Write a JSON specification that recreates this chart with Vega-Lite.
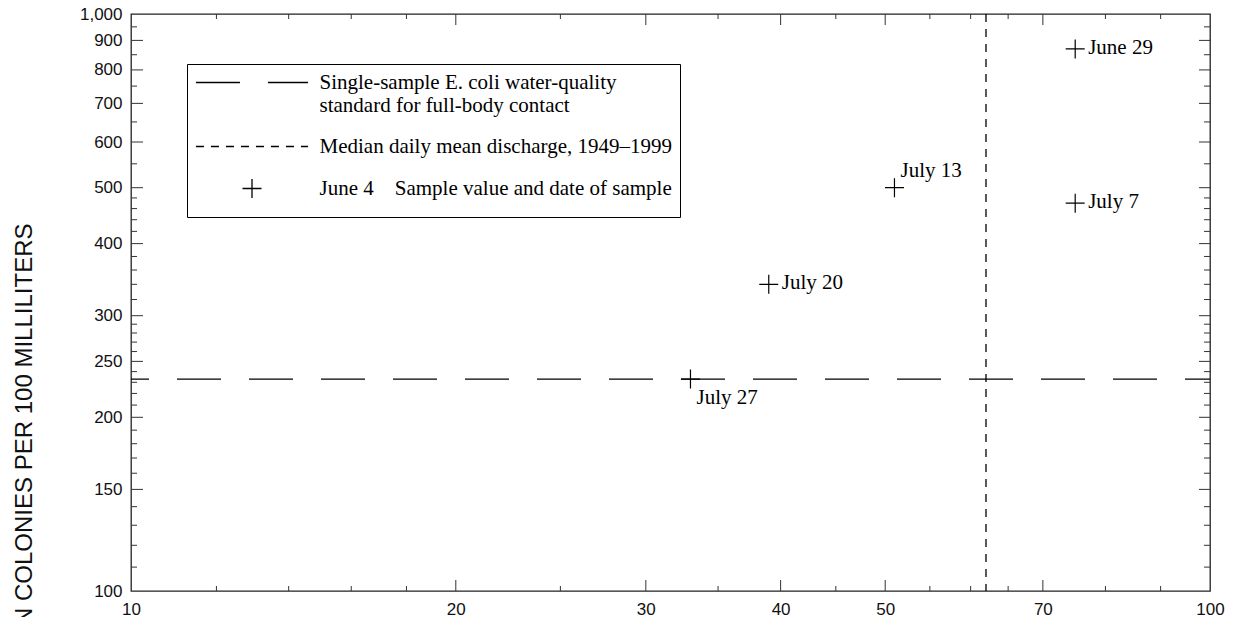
{
  "$schema": "https://vega.github.io/schema/vega-lite/v6.json",
  "width": 1079,
  "height": 577,
  "autosize": {"type": "none"},
  "padding": {"left": 131, "top": 14, "right": 23, "bottom": 26},
  "background": "white",
  "config": {
    "view": {"stroke": "#222", "strokeWidth": 1.3},
    "axis": {
      "grid": false,
      "domain": false,
      "ticks": false,
      "labelFont": "Liberation Sans",
      "labelFontSize": 17,
      "labelColor": "#111",
      "labelOverlap": false,
      "labelFlush": false,
      "titleFont": "Liberation Sans"
    }
  },
  "datasets": {
    "standard": [
      {"kind": "Single-sample E. coli water-quality standard for full-body contact", "ecoli": 233}
    ],
    "median": [
      {"kind": "Median daily mean discharge, 1949–1999", "discharge": 62}
    ],
    "samples": [
      {"kind": "Sample value and date of sample", "date": "June 29", "discharge": 75, "ecoli": 870},
      {"kind": "Sample value and date of sample", "date": "July 7", "discharge": 75, "ecoli": 470},
      {"kind": "Sample value and date of sample", "date": "July 13", "discharge": 51, "ecoli": 500},
      {"kind": "Sample value and date of sample", "date": "July 20", "discharge": 39, "ecoli": 340},
      {"kind": "Sample value and date of sample", "date": "July 27", "discharge": 33, "ecoli": 233}
    ],
    "xmajor": [{"discharge": 20}, {"discharge": 30}, {"discharge": 40}, {"discharge": 50}, {"discharge": 70}],
    "xminor": [{"discharge": 12}, {"discharge": 14}, {"discharge": 16}, {"discharge": 18}, {"discharge": 25}, {"discharge": 35}, {"discharge": 45}, {"discharge": 55}, {"discharge": 60}, {"discharge": 65}, {"discharge": 80}, {"discharge": 90}],
    "ymajor": [{"ecoli": 150}, {"ecoli": 200}, {"ecoli": 250}, {"ecoli": 300}, {"ecoli": 400}, {"ecoli": 500}, {"ecoli": 600}, {"ecoli": 700}, {"ecoli": 800}, {"ecoli": 900}],
    "yminor": [{"ecoli": 110}, {"ecoli": 120}, {"ecoli": 130}, {"ecoli": 140}, {"ecoli": 160}, {"ecoli": 170}, {"ecoli": 180}, {"ecoli": 190}, {"ecoli": 210}, {"ecoli": 220}, {"ecoli": 230}, {"ecoli": 240}, {"ecoli": 260}, {"ecoli": 270}, {"ecoli": 280}, {"ecoli": 290}, {"ecoli": 320}, {"ecoli": 340}, {"ecoli": 360}, {"ecoli": 380}, {"ecoli": 420}, {"ecoli": 440}, {"ecoli": 460}, {"ecoli": 480}, {"ecoli": 550}, {"ecoli": 650}, {"ecoli": 750}, {"ecoli": 850}, {"ecoli": 950}]
  },
  "resolve": {"axis": {"x": "independent", "y": "independent"}},
  "layer": [
    {
      "data": {"name": "standard"},
      "mark": {"type": "rule", "stroke": "#000", "strokeWidth": 1.3, "strokeDashOffset": 19},
      "encoding": {
        "y": {
          "field": "ecoli",
          "type": "quantitative",
          "scale": {"type": "log", "domain": [100, 1000], "nice": false},
          "axis": {
            "orient": "left",
            "values": [100, 150, 200, 250, 300, 400, 500, 600, 700, 800, 900, 1000],
            "format": ",",
            "labelPadding": 9,
            "title": "E. COLI DENSITY, IN COLONIES PER 100 MILLILITERS",
            "titleFontSize": 24,
            "titleFontWeight": "normal",
            "titleColor": "#111",
            "titleAngle": 270,
            "titleAlign": "right",
            "titleBaseline": "alphabetic",
            "titleX": -100,
            "titleY": 209
          }
        },
        "strokeDash": {
          "field": "kind",
          "type": "nominal",
          "scale": {
            "domain": ["Single-sample E. coli water-quality standard for full-body contact", "Median daily mean discharge, 1949–1999", "Sample value and date of sample"],
            "range": [[44, 28], [8, 7], [1, 0]]
          },
          "legend": {
            "orient": "none",
            "legendX": 56,
            "legendY": 50,
            "title": null,
            "padding": 8,
            "strokeColor": "#000",
            "labelFont": "Liberation Serif",
            "labelFontSize": 21,
            "labelColor": "#000",
            "labelLimit": 600,
            "labelOffset": 57,
            "symbolSize": 361,
            "symbolOffset": 46.5,
            "symbolStrokeColor": "#000",
            "symbolStrokeWidth": 1.3,
            "symbolFillColor": "transparent",
            "rowPadding": 19,
            "labelExpr": "datum.label == 'Single-sample E. coli water-quality standard for full-body contact' ? ['Single-sample E. coli water-quality', 'standard for full-body contact'] : datum.label == 'Sample value and date of sample' ? 'June 4\u00a0\u00a0\u00a0\u00a0Sample value and date of sample' : datum.label"
          }
        }
      }
    },
    {
      "data": {"name": "median"},
      "mark": {"type": "rule", "stroke": "#000", "strokeWidth": 1.3},
      "encoding": {
        "x": {
          "field": "discharge",
          "type": "quantitative",
          "scale": {"type": "log", "domain": [10, 100], "nice": false},
          "axis": {
            "orient": "bottom",
            "values": [10, 20, 30, 40, 50, 70, 100],
            "format": "d",
            "labelPadding": 10,
            "title": null
          }
        },
        "strokeDash": {"field": "kind", "type": "nominal"}
      }
    },
    {
      "data": {"name": "xmajor"},
      "mark": {"type": "rule", "stroke": "#333", "strokeWidth": 1, "y2Offset": -11},
      "encoding": {
        "x": {"field": "discharge", "type": "quantitative", "axis": null},
        "y": {"datum": 100, "type": "quantitative", "axis": null},
        "y2": {"datum": 100}
      }
    },
    {
      "data": {"name": "xmajor"},
      "mark": {"type": "rule", "stroke": "#333", "strokeWidth": 1, "y2Offset": 11},
      "encoding": {
        "x": {"field": "discharge", "type": "quantitative", "axis": null},
        "y": {"datum": 1000, "type": "quantitative", "axis": null},
        "y2": {"datum": 1000}
      }
    },
    {
      "data": {"name": "xminor"},
      "mark": {"type": "rule", "stroke": "#333", "strokeWidth": 1, "y2Offset": -5},
      "encoding": {
        "x": {"field": "discharge", "type": "quantitative", "axis": null},
        "y": {"datum": 100, "type": "quantitative", "axis": null},
        "y2": {"datum": 100}
      }
    },
    {
      "data": {"name": "xminor"},
      "mark": {"type": "rule", "stroke": "#333", "strokeWidth": 1, "y2Offset": 5},
      "encoding": {
        "x": {"field": "discharge", "type": "quantitative", "axis": null},
        "y": {"datum": 1000, "type": "quantitative", "axis": null},
        "y2": {"datum": 1000}
      }
    },
    {
      "data": {"name": "ymajor"},
      "mark": {"type": "rule", "stroke": "#333", "strokeWidth": 1, "x2Offset": 12},
      "encoding": {
        "y": {"field": "ecoli", "type": "quantitative", "axis": null},
        "x": {"datum": 10, "type": "quantitative", "axis": null},
        "x2": {"datum": 10}
      }
    },
    {
      "data": {"name": "ymajor"},
      "mark": {"type": "rule", "stroke": "#333", "strokeWidth": 1, "x2Offset": -11},
      "encoding": {
        "y": {"field": "ecoli", "type": "quantitative", "axis": null},
        "x": {"datum": 100, "type": "quantitative", "axis": null},
        "x2": {"datum": 100}
      }
    },
    {
      "data": {"name": "yminor"},
      "mark": {"type": "rule", "stroke": "#333", "strokeWidth": 1, "x2Offset": 6},
      "encoding": {
        "y": {"field": "ecoli", "type": "quantitative", "axis": null},
        "x": {"datum": 10, "type": "quantitative", "axis": null},
        "x2": {"datum": 10}
      }
    },
    {
      "data": {"name": "yminor"},
      "mark": {"type": "rule", "stroke": "#333", "strokeWidth": 1, "x2Offset": -6},
      "encoding": {
        "y": {"field": "ecoli", "type": "quantitative", "axis": null},
        "x": {"datum": 100, "type": "quantitative", "axis": null},
        "x2": {"datum": 100}
      }
    },
    {
      "data": {"name": "samples"},
      "mark": {"type": "point", "filled": false, "stroke": "#000", "strokeWidth": 1.2, "size": 361, "opacity": 1},
      "encoding": {
        "x": {"field": "discharge", "type": "quantitative", "axis": null},
        "y": {"field": "ecoli", "type": "quantitative", "axis": null},
        "strokeDash": {"field": "kind", "type": "nominal"},
        "shape": {
          "field": "kind",
          "type": "nominal",
          "scale": {
            "domain": ["Single-sample E. coli water-quality standard for full-body contact", "Median daily mean discharge, 1949–1999", "Sample value and date of sample"],
            "range": ["M-5.9,0H5.9", "M-5.9,0H5.9", "M0,1.8M-1,0H1M0,-1V1"]
          }
        }
      }
    },
    {
      "data": {"name": "samples"},
      "transform": [{"filter": {"field": "date", "oneOf": ["June 29", "July 7", "July 20"]}}],
      "mark": {"type": "text", "font": "Liberation Serif", "fontSize": 21, "color": "#000", "align": "left", "baseline": "alphabetic", "dx": 13, "dy": 5},
      "encoding": {
        "x": {"field": "discharge", "type": "quantitative", "axis": null},
        "y": {"field": "ecoli", "type": "quantitative", "axis": null},
        "text": {"field": "date"}
      }
    },
    {
      "data": {"name": "samples"},
      "transform": [{"filter": {"field": "date", "equal": "July 13"}}],
      "mark": {"type": "text", "font": "Liberation Serif", "fontSize": 21, "color": "#000", "align": "left", "baseline": "alphabetic", "dx": 6, "dy": -11},
      "encoding": {
        "x": {"field": "discharge", "type": "quantitative", "axis": null},
        "y": {"field": "ecoli", "type": "quantitative", "axis": null},
        "text": {"field": "date"}
      }
    },
    {
      "data": {"name": "samples"},
      "transform": [{"filter": {"field": "date", "equal": "July 27"}}],
      "mark": {"type": "text", "font": "Liberation Serif", "fontSize": 21, "color": "#000", "align": "left", "baseline": "alphabetic", "dx": 6, "dy": 25},
      "encoding": {
        "x": {"field": "discharge", "type": "quantitative", "axis": null},
        "y": {"field": "ecoli", "type": "quantitative", "axis": null},
        "text": {"field": "date"}
      }
    }
  ]
}
